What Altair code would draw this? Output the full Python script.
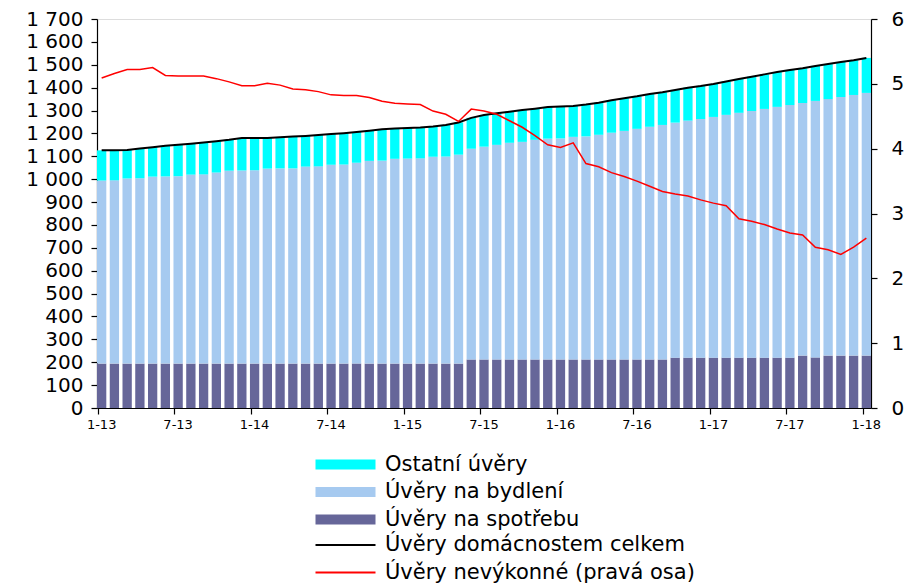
import altair as alt
import pandas as pd

# ---- categories -------------------------------------------------------------
months = [f"{m}-{y}" for y in range(13, 19) for m in range(1, 13)][:61]
tick_labels = ["1-13", "7-13", "1-14", "7-14", "1-15", "7-15", "1-16",
               "7-16", "1-17", "7-17", "1-18"]

bar_names = ["Ostatní úvěry", "Úvěry na bydlení", "Úvěry na spotřebu"]
bar_colors = ["#00FFFF", "#A6CAF0", "#666699"]
line_names = ["Úvěry domácnostem celkem", "Úvěry nevýkonné (pravá osa)"]
line_colors = ["#000000", "#FF0000"]

# ---- values (mld. Kč, left axis) -------------------------------------------
consumer = [194] * 29 + [212] * 16 + [220] * 10 + [229, 221, 229, 229, 229, 229]

housing = [800, 801, 809, 810, 817, 818, 819, 826, 827, 835, 843, 844, 845,
           852, 853, 853, 861, 862, 869, 870, 878, 886, 887, 895, 896, 897,
           904, 905, 913, 921, 930, 938, 947, 951, 960, 965, 966, 973, 975,
           982, 991, 999, 1008, 1017, 1025, 1027, 1036, 1043, 1052, 1061,
           1070, 1078, 1087, 1096, 1104, 1104, 1121, 1121, 1130, 1139, 1148]

other = [132, 131, 125, 130, 129, 134, 137, 135, 139, 137, 135, 142, 141,
         134, 136, 139, 134, 137, 134, 137, 134, 132, 137, 132, 134, 135,
         132, 138, 141, 135, 138, 138, 136, 139, 136, 138, 140, 135, 139,
         140, 142, 143, 142, 143, 143, 143, 144, 144, 144, 146, 148, 150,
         151, 152, 153, 152, 153, 153, 153, 152, 153]

# ---- non-performing loans (%, right axis) -----------------------------------
npl = [5.09, 5.16, 5.22, 5.22, 5.25, 5.13, 5.12, 5.12, 5.12, 5.08, 5.03,
       4.97, 4.97, 5.01, 4.98, 4.92, 4.91, 4.88, 4.83, 4.82, 4.82, 4.79,
       4.73, 4.70, 4.69, 4.68, 4.58, 4.53, 4.42, 4.61, 4.58, 4.53, 4.43,
       4.33, 4.20, 4.06, 4.02, 4.09, 3.77, 3.72, 3.63, 3.57, 3.50, 3.42,
       3.34, 3.30, 3.27, 3.21, 3.16, 3.12, 2.92, 2.88, 2.83, 2.76, 2.70,
       2.67, 2.48, 2.44, 2.37, 2.48, 2.62]

left_ticks = list(range(0, 1701, 100))
right_ticks = [0, 1, 2, 3, 4, 5, 6]

# ---- tables -----------------------------------------------------------------
rows = []
for i, m in enumerate(months):
    rows.append({"m": m, "series": bar_names[2], "value": consumer[i], "ord": 0})
    rows.append({"m": m, "series": bar_names[1], "value": housing[i], "ord": 1})
    rows.append({"m": m, "series": bar_names[0], "value": other[i], "ord": 2})
bars_df = pd.DataFrame(rows)

total_df = pd.DataFrame({
    "m": months,
    "value": [c + h + o for c, h, o in zip(consumer, housing, other)],
    "series": line_names[0],
})
npl_df = pd.DataFrame({"m": months, "value": npl, "series": line_names[1]})

FONT = "DejaVu Sans"
LEG_X = 213
LEG_Y = 435
ROW = 26.5

fill_enc = alt.Fill(
    "series:N",
    scale=alt.Scale(domain=bar_names, range=bar_colors),
    sort=bar_names,
    legend=alt.Legend(
        orient="none", legendX=LEG_X, legendY=LEG_Y, title=None, padding=0,
        symbolType="M-1,-1H11V1H-1Z", symbolSize=100, symbolStrokeWidth=0,
        symbolOpacity=1, labelFontSize=21, labelFont=FONT,
        labelColor="#000000", labelOffset=54, rowPadding=ROW - 21,
        labelLimit=600,
    ),
)

stroke_scale = alt.Scale(domain=line_names, range=line_colors)
stroke_legend = alt.Legend(
    orient="none", legendX=LEG_X, legendY=LEG_Y + 3 * ROW + 1, title=None,
    padding=0, symbolType="M-1,0H11", symbolSize=100, symbolStrokeWidth=2,
    symbolOpacity=1, labelFontSize=21, labelFont=FONT, labelColor="#000000",
    labelOffset=54, rowPadding=ROW - 21, labelLimit=600,
)

x_enc = alt.X(
    "m:O", sort=months, title=None,
    scale=alt.Scale(paddingInner=0.27, paddingOuter=0),
    axis=alt.Axis(values=tick_labels, labelAngle=0, tickSize=6,
                  bandPosition=0.15, labelFontSize=13, labelFont=FONT,
                  labelColor="#000000", labelPadding=4, domainColor="#000000",
                  tickColor="#000000", domainWidth=1.2, tickWidth=1.2,
                  grid=False),
)

left_axis = alt.Axis(values=left_ticks, tickSize=6, labelFontSize=20,
                     labelFont=FONT, labelColor="#000000", labelPadding=8,
                     labelOverlap=False, labelFlush=False,
                     domainColor="#000000", tickColor="#000000",
                     domainWidth=1.2, tickWidth=1.2, grid=False,
                     labelExpr="replace(format(datum.value, ','), ',', ' ')")
left_scale = alt.Scale(domain=[0, 1700], nice=False, zero=True)

bars = alt.Chart(bars_df).mark_bar().encode(
    x=x_enc,
    y=alt.Y("value:Q", title=None, stack="zero", scale=left_scale,
            axis=left_axis),
    fill=fill_enc, order=alt.Order("ord:Q"),
)

total_line = alt.Chart(total_df).mark_line(strokeWidth=2).encode(
    x=alt.X("m:O", sort=months),
    y=alt.Y("value:Q", title=None, stack=None, scale=left_scale,
            axis=left_axis),
    stroke=alt.Stroke("series:N", scale=stroke_scale, sort=line_names,
                      legend=stroke_legend),
)

left = alt.layer(bars, total_line)

npl_line = alt.Chart(npl_df).mark_line(strokeWidth=1.5).encode(
    x=alt.X("m:O", sort=months),
    y=alt.Y("value:Q", title=None,
            scale=alt.Scale(domain=[0, 6], nice=False),
            axis=alt.Axis(orient="right", values=right_ticks, format="d",
                          tickSize=6, labelFontSize=20, labelFont=FONT,
                          labelColor="#000000", labelPadding=14,
                          labelOverlap=False, labelFlush=False,
                          domainColor="#000000", tickColor="#000000",
                          domainWidth=1.2, tickWidth=1.2, grid=False)),
    stroke=alt.Stroke("series:N", scale=stroke_scale, sort=line_names,
                      legend=stroke_legend),
)

chart = alt.layer(left, npl_line).resolve_scale(y="independent").properties(
    width=774, height=389,
    autosize=alt.AutoSizeParams(type="none"),
    padding={"left": 89, "top": 11, "right": 38, "bottom": 176},
).configure_view(stroke=None).configure(background="#FFFFFF")

chart.save("out.html", embed_options={"renderer": "svg", "actions": False})
